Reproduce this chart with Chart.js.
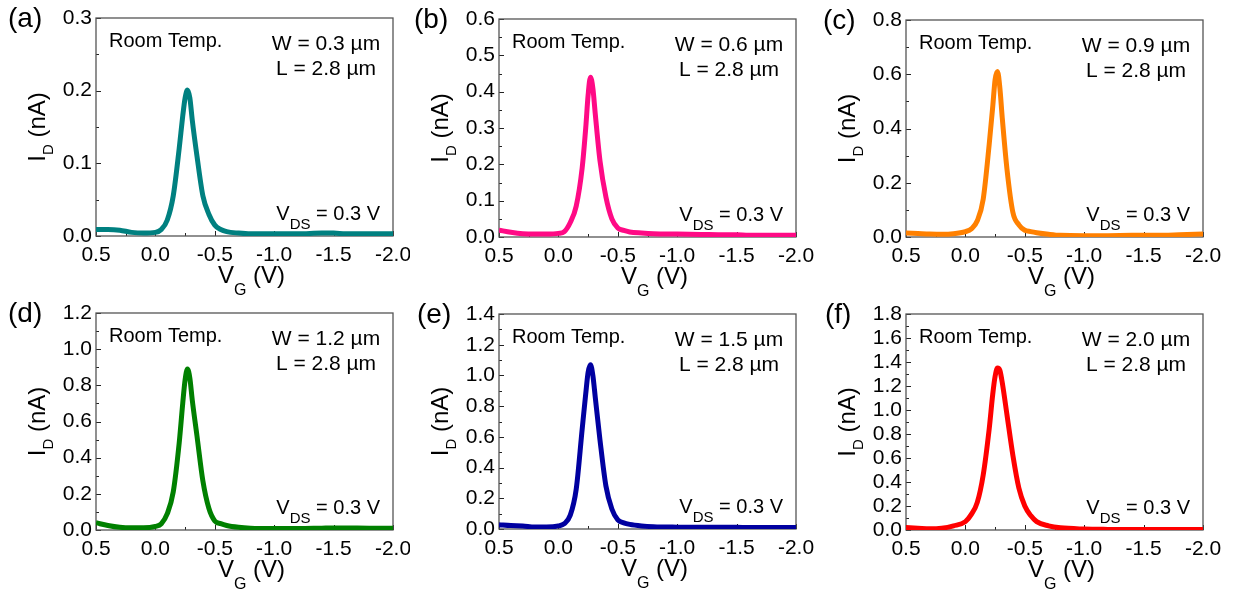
<!DOCTYPE html>
<html>
<head>
<meta charset="utf-8">
<script src="https://cdn.jsdelivr.net/npm/chart.js@4"></script>
<style>
  body { margin: 0; background: #fff; width: 1237px; height: 590px; position: relative; overflow: hidden; }
  canvas { position: absolute; }
</style>
</head>
<body>
<canvas id="panel_a" width="410" height="300" style="left:0px;top:0px"></canvas>
<canvas id="panel_b" width="410" height="300" style="left:410px;top:0px"></canvas>
<canvas id="panel_c" width="417" height="300" style="left:820px;top:0px"></canvas>
<canvas id="panel_d" width="410" height="300" style="left:0px;top:290px"></canvas>
<canvas id="panel_e" width="410" height="300" style="left:410px;top:290px"></canvas>
<canvas id="panel_f" width="417" height="300" style="left:820px;top:290px"></canvas>
<script>
// gate voltage (V), shared by all six sweeps
const VG = [0.5, 0.4, 0.3, 0.2, 0.1, 0.0, -0.05, -0.1, -0.15, -0.2, -0.23, -0.25, -0.27, -0.29, -0.31,
    -0.35, -0.4, -0.45, -0.5, -0.55, -0.6, -0.7, -0.8, -1.0, -1.2, -1.4, -1.5, -1.6, -1.8, -2.0]

// drain current (nA) for each channel width
const currentA = [0.009, 0.009, 0.008, 0.005, 0.004, 0.005, 0.009, 0.022, 0.055, 0.12, 0.165, 0.19, 0.201, 0.19, 0.16,
    0.11, 0.055, 0.03, 0.015, 0.009, 0.006, 0.004, 0.003, 0.003, 0.003, 0.004, 0.004, 0.003, 0.003, 0.003]
const currentB = [0.019, 0.013, 0.009, 0.008, 0.008, 0.01, 0.015, 0.04, 0.085, 0.19, 0.30, 0.39, 0.44, 0.41, 0.34,
    0.21, 0.11, 0.05, 0.025, 0.018, 0.014, 0.011, 0.009, 0.008, 0.007, 0.006, 0.006, 0.005, 0.005, 0.005]
const currentC = [0.015, 0.013, 0.011, 0.01, 0.012, 0.02, 0.03, 0.06, 0.14, 0.34, 0.48, 0.58, 0.61, 0.55, 0.44,
    0.25, 0.09, 0.045, 0.025, 0.02, 0.016, 0.01, 0.006, 0.005, 0.005, 0.006, 0.006, 0.006, 0.008, 0.011]
const currentD = [0.04, 0.025, 0.015, 0.012, 0.012, 0.02, 0.035, 0.09, 0.21, 0.48, 0.70, 0.83, 0.89, 0.84, 0.72,
    0.52, 0.27, 0.12, 0.05, 0.035, 0.025, 0.015, 0.01, 0.008, 0.008, 0.01, 0.011, 0.011, 0.01, 0.01]
const currentE = [0.028, 0.022, 0.02, 0.013, 0.013, 0.02, 0.035, 0.09, 0.26, 0.65, 0.88, 1.02, 1.07, 1.00, 0.86,
    0.58, 0.28, 0.13, 0.06, 0.04, 0.03, 0.02, 0.015, 0.012, 0.011, 0.011, 0.011, 0.01, 0.01, 0.01]
const currentF = [0.02, 0.015, 0.01, 0.015, 0.035, 0.07, 0.13, 0.23, 0.46, 0.84, 1.13, 1.28, 1.35, 1.33, 1.23,
    0.96, 0.62, 0.35, 0.20, 0.12, 0.07, 0.035, 0.018, 0.008, 0.005, 0.004, 0.004, 0.004, 0.004, 0.004]

const PANEL_LABELS = ['(a)', '(b)', '(c)', '(d)', '(e)', '(f)']
const WIDTH_LABELS = ['W = 0.3 µm', 'W = 0.6 µm', 'W = 0.9 µm', 'W = 1.2 µm', 'W = 1.5 µm', 'W = 2.0 µm']
const LENGTH_LABEL = 'L = 2.8 µm'
const Y_MAX = [0.3, 0.6, 0.8, 1.2, 1.4, 1.8]
const Y_MAJOR = [0.1, 0.1, 0.2, 0.2, 0.2, 0.2]
const X_MIN = -2.0
const X_MAX = 0.5
const X_MAJOR = 0.5

const SERIES = [currentA, currentB, currentC, currentD, currentE, currentF]
const COLORS = ['#008080', '#ff0a85', '#ff8000', '#008000', '#0000a0', '#ff0000']
const CANVAS_IDS = ['panel_a', 'panel_b', 'panel_c', 'panel_d', 'panel_e', 'panel_f']

// page geometry: canvas left/top, plot box left/top/right/bottom, panel label offset
const BOXES = [
    [0, 0, 96, 18, 393, 236, -88],
    [410, 0, 499, 19, 796, 237, -85],
    [820, 0, 906, 20, 1203, 237, -83],
    [0, 290, 96, 313, 393, 530, -88],
    [410, 290, 499, 314, 796, 529, -82],
    [820, 290, 906, 314, 1203, 530, -81],
]

const FONT = '"Liberation Sans", Arial, sans-serif'

function isMajor(v, step) {
    let r = v / step
    return Math.abs(r - Math.round(r)) < 1e-6
}

function fmt(v) {
    if (Math.abs(v) < 1e-9) v = 0
    return v.toFixed(1)
}

// draw text made of pieces (for subscripts)
function drawRich(ctx, parts, x, y, align) {
    let total = 0
    for (let p of parts) {
        ctx.font = p.size + 'px ' + FONT
        total += ctx.measureText(p.text).width
    }
    let cx = align === 'right' ? x - total : align === 'center' ? x - total / 2 : x
    ctx.textAlign = 'left'
    ctx.textBaseline = 'alphabetic'
    for (let p of parts) {
        ctx.font = p.size + 'px ' + FONT
        ctx.fillText(p.text, cx, y + (p.dy || 0))
        cx += ctx.measureText(p.text).width
    }
}

const panelDecor = {
    id: 'panelDecor',
    beforeDatasetsDraw(chart) {
        const { ctx, chartArea: ca, scales } = chart
        ctx.save()
        ctx.strokeStyle = '#222'
        ctx.lineWidth = 1
        ctx.beginPath()
        scales.x.ticks.forEach((t, i) => {
            let px = Math.round(scales.x.getPixelForTick(i)) + 0.5
            let len = t.label ? 5 : 3
            ctx.moveTo(px, ca.bottom)
            ctx.lineTo(px, ca.bottom - len)
        })
        scales.y.ticks.forEach((t, i) => {
            let py = Math.round(scales.y.getPixelForTick(i)) + 0.5
            let len = t.label ? 5 : 3
            ctx.moveTo(ca.left, py)
            ctx.lineTo(ca.left + len, py)
        })
        ctx.stroke()
        ctx.strokeStyle = '#555'
        ctx.lineWidth = 1.3
        ctx.strokeRect(ca.left, ca.top, ca.right - ca.left, ca.bottom - ca.top)
        ctx.restore()
    },
    afterDraw(chart, args, opts) {
        const { ctx, chartArea: ca } = chart
        ctx.save()
        ctx.fillStyle = '#000'
        drawRich(ctx, [{ text: opts.label, size: 28 }], ca.left + opts.labelOffset, ca.top + 9, 'left')
        drawRich(ctx, [{ text: 'Room Temp.', size: 20 }], ca.left + 13, ca.top + 29, 'left')
        drawRich(ctx, [{ text: opts.width, size: 21 }], ca.right - 67, ca.top + 32, 'center')
        drawRich(ctx, [{ text: LENGTH_LABEL, size: 21 }], ca.right - 67, ca.top + 57, 'center')
        drawRich(ctx, [
            { text: 'V', size: 20 },
            { text: 'DS', size: 15, dy: 9 },
            { text: ' = 0.3 V', size: 20 },
        ], ca.right - 13, ca.bottom - 16, 'right')
        // x axis title
        drawRich(ctx, [
            { text: 'V', size: 24 },
            { text: 'G', size: 16, dy: 12 },
            { text: ' (V)', size: 24 },
        ], (ca.left + ca.right) / 2 + 7, ca.bottom + 47, 'center')
        // y axis title
        ctx.translate(ca.left - 51, (ca.top + ca.bottom) / 2)
        ctx.rotate(-Math.PI / 2)
        drawRich(ctx, [
            { text: 'I', size: 24 },
            { text: 'D', size: 15, dy: 8 },
            { text: ' (nA)', size: 24 },
        ], 0, 0, 'center')
        ctx.restore()
    }
}

SERIES.forEach((series, k) => {
    const [cl, ct, pl, pt, pr, pb, labelOffset] = BOXES[k]
    const canvas = document.getElementById(CANVAS_IDS[k])
    const yAxisWidth = pl - cl
    const xAxisHeight = ct + canvas.height - pb
    const padTop = pt - ct
    const padRight = cl + canvas.width - pr

    new Chart(canvas, {
        type: 'line',
        data: {
            datasets: [{
                data: VG.map((v, i) => ({ x: v, y: series[i] })),
                borderColor: COLORS[k],
                borderWidth: 5,
                pointRadius: 0,
                cubicInterpolationMode: 'monotone',
                fill: false,
            }]
        },
        options: {
            responsive: false,
            animation: false,
            layout: { padding: { top: padTop, right: padRight, left: 0, bottom: 0 } },
            plugins: {
                legend: { display: false },
                tooltip: { enabled: false },
                panelDecor: { label: PANEL_LABELS[k], width: WIDTH_LABELS[k], labelOffset: labelOffset },
            },
            scales: {
                x: {
                    type: 'linear',
                    min: X_MIN,
                    max: X_MAX,
                    reverse: true,
                    grid: { display: false, drawTicks: false },
                    border: { display: false },
                    ticks: {
                        stepSize: X_MAJOR / 2,
                        autoSkip: false,
                        maxRotation: 0,
                        padding: 7,
                        color: '#000',
                        font: { family: FONT, size: 21 },
                        callback: v => isMajor(v, X_MAJOR) ? fmt(v) : '',
                    },
                    afterFit(s) {
                        s.height = xAxisHeight
                        s.paddingLeft = 0
                        s.paddingRight = 0
                    },
                },
                y: {
                    type: 'linear',
                    min: 0,
                    max: Y_MAX[k],
                    grid: { display: false, drawTicks: false },
                    border: { display: false },
                    ticks: {
                        stepSize: Y_MAJOR[k] / 2,
                        autoSkip: false,
                        padding: 4,
                        color: '#000',
                        font: { family: FONT, size: 21 },
                        callback: v => isMajor(v, Y_MAJOR[k]) ? fmt(v) : '',
                    },
                    afterFit(s) {
                        s.width = yAxisWidth
                        s.paddingTop = 0
                        s.paddingBottom = 0
                    },
                },
            },
        },
        plugins: [panelDecor],
    })
})
</script>
</body>
</html>
